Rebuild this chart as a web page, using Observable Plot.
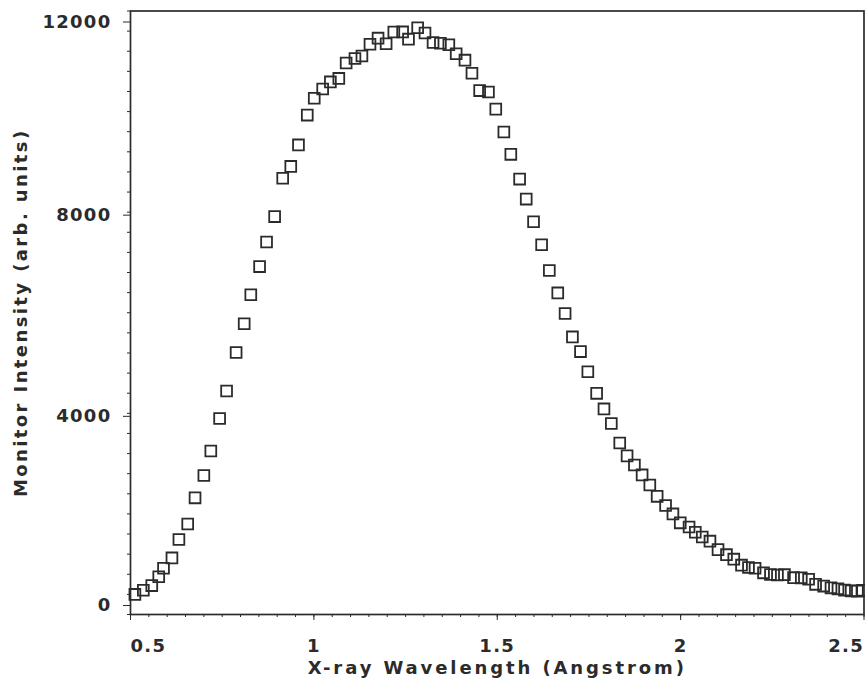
<!DOCTYPE html>
<html><head><meta charset="utf-8">
<script src="https://cdn.jsdelivr.net/npm/d3@7"></script>
<script src="https://cdn.jsdelivr.net/npm/@observablehq/plot@0.6"></script>
<style>body{margin:0;background:#fff} svg{display:block}</style>
</head><body><div id="chart"></div>
<script>
const wavelength = [
  0.512,0.535,0.558,0.577,0.590,0.613,0.632,0.656,0.676,0.700,
  0.719,0.743,0.762,0.788,0.810,0.828,0.852,0.871,0.893,0.915,
  0.937,0.958,0.982,1.001,1.024,1.045,1.068,1.088,1.112,1.131,
  1.153,1.175,1.197,1.218,1.242,1.258,1.283,1.303,1.325,1.345,
  1.368,1.388,1.412,1.431,1.452,1.476,1.496,1.518,1.537,1.561,
  1.579,1.599,1.621,1.642,1.665,1.685,1.705,1.727,1.747,1.771,
  1.791,1.811,1.834,1.854,1.874,1.895,1.916,1.936,1.959,1.979,
  1.999,2.023,2.040,2.059,2.080,2.102,2.125,2.145,2.166,2.185,
  2.203,2.226,2.245,2.264,2.283,2.308,2.329,2.349,2.368,2.390,
  2.410,2.429,2.447,2.465,2.482,2.496
];
const intensity = [
  400,483,575,750,920,1125,1491,1800,2320,2763,
  3250,3897,4445,5210,5780,6358,6918,7408,7912,8675,
  8910,9337,9930,10265,10450,10590,10660,10967,11056,11105,
  11338,11460,11348,11583,11584,11440,11666,11563,11375,11358,
  11328,11150,11023,10762,10417,10390,10049,9595,9150,8658,
  8260,7810,7353,6839,6395,5984,5520,5228,4828,4397,
  4088,3797,3409,3154,2972,2776,2574,2349,2167,2000,
  1822,1740,1636,1540,1458,1290,1190,1100,981,934,
  921,828,795,785,792,733,729,700,600,565,
  530,510,485,470,465,480
];
const yMajorTicks = [0, 4000, 8000, 12000];
const xMajorTicks = [0.5, 1, 1.5, 2, 2.5];
const xTitle = "X-ray Wavelength (Angstrom)";
const yTitle = "Monitor Intensity (arb. units)";

const data = wavelength.map((x, i) => ({x, y: intensity[i]}));
const ink = "#2b2b2b";
const font = "DejaVu Sans, Verdana, sans-serif";
const fmt = d => String(d);

const chart = Plot.plot({
  width: 865, height: 687,
  marginLeft: 130, marginRight: 1.5, marginTop: 10.5, marginBottom: 73,
  x: {domain: [0.5, 2.5]},
  y: {domain: [0, 12000]},
  style: {fontFamily: font, fontWeight: "bold", fontSize: "18px", color: ink, background: "#fff"},
  marks: [
    Plot.frame({stroke: ink, strokeWidth: 1.7}),
    Plot.axisY({ticks: d3.range(0, 12001, 400), tickSize: 3, tickFormat: () => "", label: null, stroke: ink}),
    Plot.axisY({ticks: yMajorTicks.slice(1, 3), tickSize: 7, tickPadding: 12, dy: 3, label: null, tickFormat: fmt, stroke: ink, fill: ink}),
    Plot.axisY({ticks: [yMajorTicks[3]], tickSize: 7, tickPadding: 12, dy: 11, label: null, tickFormat: fmt, stroke: ink, fill: ink}),
    Plot.axisY({ticks: [yMajorTicks[0]], tickSize: 7, tickPadding: 12, dy: -9, label: null, tickFormat: fmt, stroke: ink, fill: ink}),
    Plot.axisX({ticks: d3.range(0, 41).map(i => 0.5 + i * 0.05), tickSize: 3, tickFormat: () => "", label: null, stroke: ink}),
    Plot.axisX({ticks: xMajorTicks.slice(1, 4), tickSize: 6, tickPadding: 19, label: null, tickFormat: fmt, stroke: ink, fill: ink}),
    Plot.axisX({ticks: [xMajorTicks[0]], tickSize: 6, tickPadding: 19, textAnchor: "start", label: null, tickFormat: fmt, stroke: ink, fill: ink}),
    Plot.axisX({ticks: [xMajorTicks[4]], tickSize: 6, tickPadding: 19, textAnchor: "end", label: null, tickFormat: fmt, stroke: ink, fill: ink}),
    Plot.dot(data, {x: "x", y: "y", symbol: "square", r: 6.1, stroke: ink, strokeWidth: 1.8, fill: "none"}),
    Plot.text([xTitle], {frameAnchor: "bottom", lineAnchor: "middle", dy: 54, text: d => d, fontSize: 18, fontWeight: "bold", fill: ink}),
    Plot.text([yTitle], {frameAnchor: "left", textAnchor: "middle", lineAnchor: "middle", dx: -109, rotate: -90, text: d => d, fontSize: 18, fontWeight: "bold", fill: ink})
  ]
});
document.getElementById("chart").append(chart);
// letter spacing to match the tracked-out lettering of the original
d3.select(chart).selectAll("text").each(function() {
  const t = this.textContent;
  let ls = "1.3px";
  if (t === xTitle) ls = "2.9px";
  else if (t === yTitle) ls = "2.4px";
  this.style.letterSpacing = ls;
});
</script>
</body></html>
